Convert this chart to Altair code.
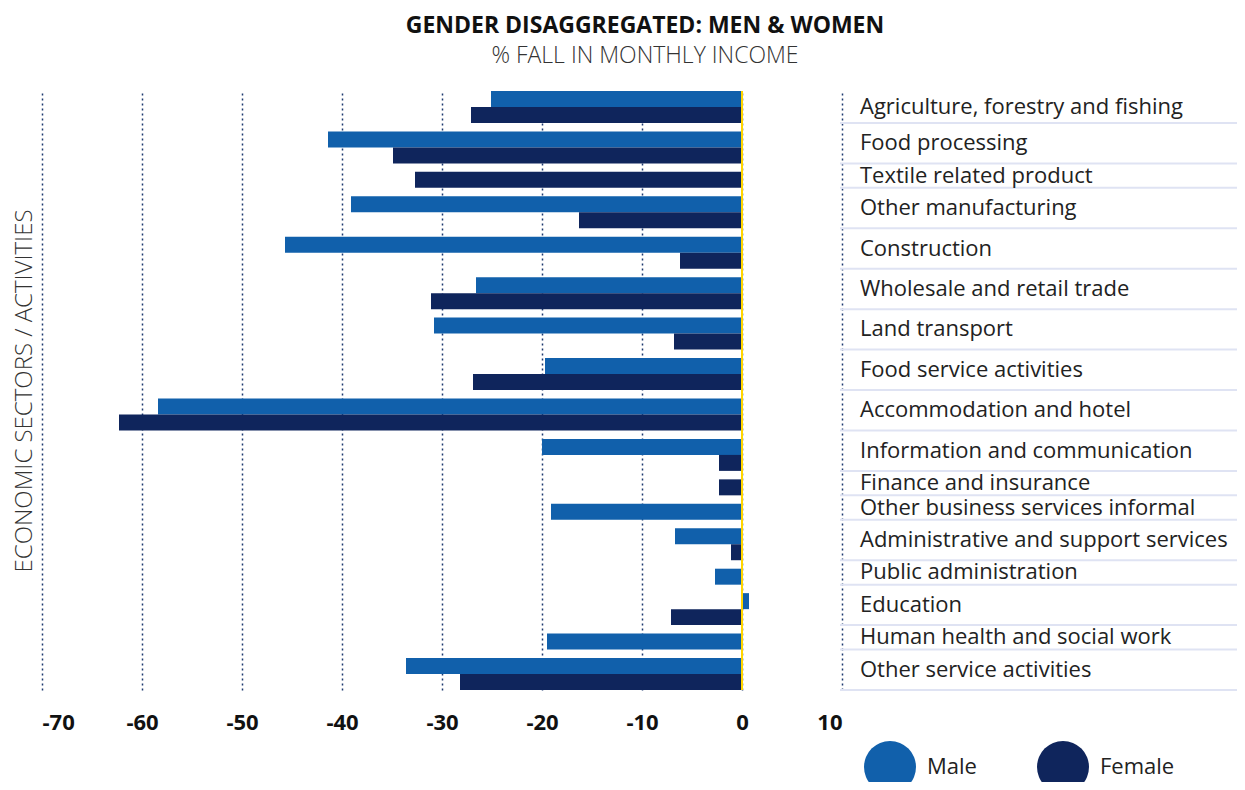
import altair as alt
import pandas as pd

categories = [
    "Agriculture, forestry and fishing",
    "Food processing",
    "Textile related product",
    "Other manufacturing",
    "Construction",
    "Wholesale and retail trade",
    "Land transport",
    "Food service activities",
    "Accommodation and hotel",
    "Information and communication",
    "Finance and insurance",
    "Other business services informal",
    "Administrative and support services",
    "Public administration",
    "Education",
    "Human health and social work",
    "Other service activities",
]
male = [-25.1, -41.4, None, -39.1, -45.7, -26.6, -30.8, -19.7, -58.4, -20.0,
        None, -19.1, -6.7, -2.7, 0.7, -19.5, -33.6]
female = [-27.1, -34.9, -32.7, -16.3, -6.2, -31.1, -6.8, -26.9, -62.3, -2.3,
          -2.3, None, -1.1, None, -7.1, None, -28.2]
genders = ["Male", "Female"]
colors = ["#1160ab", "#0f255c"]
x_ticks = [-70, -60, -50, -40, -30, -20, -10, 0, 10]

# layout of the rows: each bar takes one unit, groups separated by a gap
GAP = 0.53
bars, groups = [], []
cursor = 0.0
for i, cat in enumerate(categories):
    top = cursor
    if i > 0:
        cursor += GAP
    for g, vals in zip(genders, [male, female]):
        v = vals[i]
        if v is None:
            continue
        bars.append({"category": cat, "gender": g, "value": v,
                     "y0": cursor, "y1": cursor + 1, "zero": 0})
        cursor += 1
    groups.append({"category": cat, "mid": (top + cursor) / 2, "sep": cursor})
TOTAL = cursor

bars_df = pd.DataFrame(bars)
groups_df = pd.DataFrame(groups)

W, H = 800, 599
FONT = "Open Sans"

yscale = alt.Scale(domain=[0, TOTAL], reverse=True, nice=False, zero=False)
xscale = alt.Scale(domain=[-70, 10], nice=False, zero=False)

bar_layer = alt.Chart(bars_df).mark_bar().encode(
    x=alt.X("value:Q", scale=xscale,
            axis=alt.Axis(values=x_ticks, title=None, ticks=False, domain=False,
                          grid=True, gridDash=[2, 3], gridColor="#1f3a70",
                          gridWidth=1.5, labelFont=FONT, labelFontWeight="bold",
                          labelFontSize=22, labelColor="#111111",
                          labelPadding=22, labelExpr="'' + datum.value")),
    x2="zero:Q",
    y=alt.Y("y0:Q", scale=yscale,
            axis=alt.Axis(title="ECONOMIC SECTORS / ACTIVITIES", labels=False,
                          ticks=False, domain=False, grid=False,
                          titleFont=FONT, titleFontWeight=300, titleFontSize=24,
                          titleColor="#333333", titleAngle=270,
                          titleX=-18, titleY=H / 2, titleAlign="center",
                          titleBaseline="middle")),
    y2="y1:Q",
    color=alt.Color("gender:N",
                    scale=alt.Scale(domain=genders, range=colors),
                    sort=genders,
                    legend=alt.Legend(orient="none", legendX=822, legendY=650,
                                      direction="horizontal", title=None,
                                      symbolType="circle", symbolSize=2704,
                                      symbolStrokeWidth=0, symbolOpacity=1,
                                      labelFont=FONT, labelFontSize=22,
                                      labelColor="#222222", labelOffset=11,
                                      columnPadding=60, padding=0)),
)

zero_layer = alt.Chart(pd.DataFrame({"z": [0]})).mark_rule(
    color="#ffd500", strokeWidth=2
).encode(x=alt.X("z:Q", scale=xscale))

sep_layer = alt.Chart(groups_df).mark_rule(
    color="#dfe3f3", strokeWidth=2
).encode(
    y=alt.Y("sep:Q", scale=yscale),
    x=alt.value(798),
    x2=alt.value(1203),
)

label_layer = alt.Chart(groups_df).mark_text(
    align="left", baseline="middle", font=FONT, fontSize=22, color="#222222"
).encode(
    y=alt.Y("mid:Q", scale=yscale),
    x=alt.value(818),
    text="category:N",
)

chart = alt.layer(sep_layer, bar_layer, zero_layer, label_layer).properties(
    width=W,
    height=H,
    padding={"left": 34, "top": 83, "right": 395, "bottom": 92},
    autosize=alt.AutoSizeParams(type="none"),
    title=alt.TitleParams(
        text="GENDER DISAGGREGATED: MEN & WOMEN",
        subtitle="% FALL IN MONTHLY INCOME",
        anchor="middle", frame="group", dx=203, offset=22,
        font=FONT, fontSize=23, fontWeight="bold", color="#111111",
        subtitleFont=FONT, subtitleFontSize=23, subtitleFontWeight=300,
        subtitleColor="#333333", subtitlePadding=7,
    ),
).configure_view(stroke=None)

chart.save("out.html", embed_options={"renderer": "svg", "actions": False})
